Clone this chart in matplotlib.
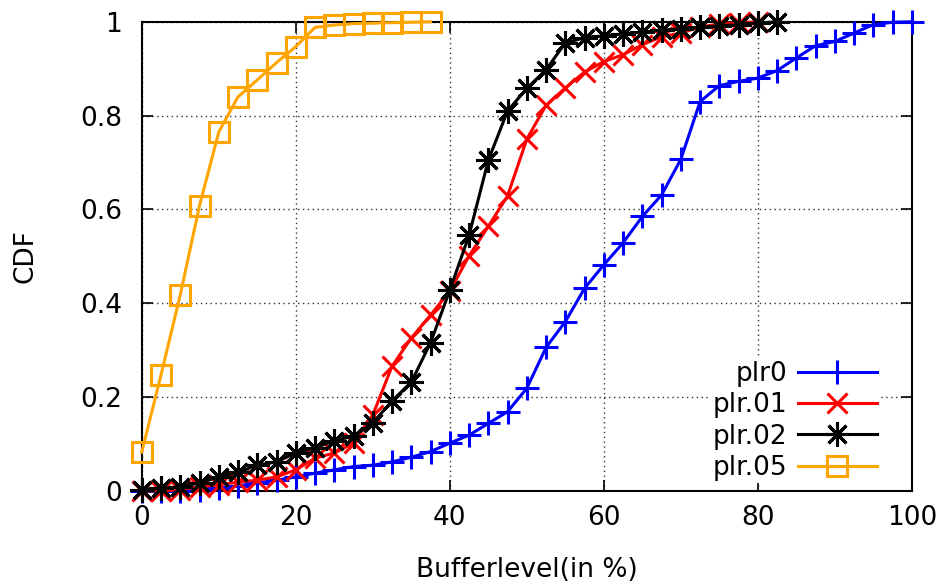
import matplotlib
matplotlib.use('Agg')
import matplotlib.pyplot as plt

# bins of buffer level (in %)
x_all = [0, 2.5, 5, 7.5, 10, 12.5, 15, 17.5, 20, 22.5, 25, 27.5, 30, 32.5, 35, 37.5,
         40, 42.5, 45, 47.5, 50, 52.5, 55, 57.5, 60, 62.5, 65, 67.5, 70, 72.5, 75, 77.5,
         80, 82.5, 85, 87.5, 90, 92.5, 95, 97.5, 100]

cdf_plr0 = [0.0, 0.0, 0.0, 0.002, 0.006, 0.011, 0.017, 0.023, 0.030, 0.038, 0.045,
            0.052, 0.055, 0.062, 0.072, 0.084, 0.102, 0.119, 0.144, 0.169, 0.219,
            0.306, 0.361, 0.432, 0.482, 0.529, 0.585, 0.631, 0.707, 0.830, 0.864,
            0.873, 0.880, 0.896, 0.923, 0.949, 0.958, 0.976, 0.994, 0.999, 1.0]
cdf_plr01 = [0.0, 0.0, 0.003, 0.009, 0.013, 0.019, 0.023, 0.030, 0.045, 0.070, 0.081,
             0.102, 0.162, 0.266, 0.326, 0.375, 0.426, 0.501, 0.564, 0.629, 0.750,
             0.822, 0.859, 0.893, 0.915, 0.930, 0.951, 0.968, 0.976, 0.989, 0.995,
             0.998, 1.0]
cdf_plr02 = [0.003, 0.006, 0.009, 0.017, 0.030, 0.040, 0.055, 0.062, 0.081, 0.092,
             0.107, 0.117, 0.145, 0.192, 0.232, 0.316, 0.428, 0.545, 0.705, 0.810,
             0.858, 0.898, 0.955, 0.966, 0.970, 0.974, 0.978, 0.982, 0.985, 0.988,
             0.991, 0.994, 0.997, 1.0]
cdf_plr05 = [0.083, 0.247, 0.418, 0.608, 0.765, 0.840, 0.876, 0.913, 0.947, 0.988,
             0.993, 0.996, 0.997, 0.998, 0.999, 1.0]

labels = ['plr0', 'plr.01', 'plr.02', 'plr.05']
yticks = [0, 0.2, 0.4, 0.6, 0.8, 1]
ytick_labels = ['0', '0.2', '0.4', '0.6', '0.8', '1']
xticks = [0, 20, 40, 60, 80, 100]

plt.rcParams['font.family'] = ['DejaVu Sans']
plt.rcParams['font.size'] = 19

fig = plt.figure(figsize=(9.45, 5.88), dpi=100)
ax = fig.add_axes([0.150, 0.165, 0.815, 0.798])

ax.plot(x_all[:len(cdf_plr0)], cdf_plr0, color='#0000ff', lw=2.2, marker='+',
        ms=17, mew=2.2, label=labels[0], zorder=3, clip_on=False)
ax.plot(x_all[:len(cdf_plr01)], cdf_plr01, color='#ff0000', lw=2.2, marker='x',
        ms=14, mew=2.2, label=labels[1], zorder=4, clip_on=False)
ax.plot(x_all[:len(cdf_plr02)], cdf_plr02, color='black', lw=2.2, marker=(8, 2, 0),
        ms=18, mew=2.2, label=labels[2], zorder=5, clip_on=False)
ax.plot(x_all[:len(cdf_plr05)], cdf_plr05, color='#ffa500', lw=2.2, marker='s',
        ms=15, mew=2.2, mfc='none', label=labels[3], zorder=6, clip_on=False)

ax.set_xlim(0, 100)
ax.set_ylim(0, 1)
ax.set_xticks(xticks)
ax.set_yticks(yticks)
ax.set_yticklabels(ytick_labels)
ax.tick_params(axis='x', direction='in', length=8, width=1.2, top=True, pad=10)
ax.tick_params(axis='y', direction='in', length=8, width=1.2, right=True, pad=14)
ax.grid(True, color='#333333', linestyle=(0, (1, 2.5)), linewidth=1)
for s in ax.spines.values():
    s.set_linewidth(1.5)

ax.set_xlabel('Bufferlevel(in %)', labelpad=19)
ax.set_ylabel('CDF', labelpad=30)

# white box keeps grid out of the key, but stays above the tick marks
leg = ax.legend(loc='lower right', bbox_to_anchor=(0.958, 0.016), markerfirst=False,
                frameon=True, edgecolor='none', facecolor='white', framealpha=1,
                handlelength=3.0, labelspacing=0.2, handletextpad=0.4,
                borderaxespad=0.0, borderpad=0.1, fancybox=False, fontsize=19)
leg.set_zorder(2)

fig.savefig('out.png', dpi=100)
